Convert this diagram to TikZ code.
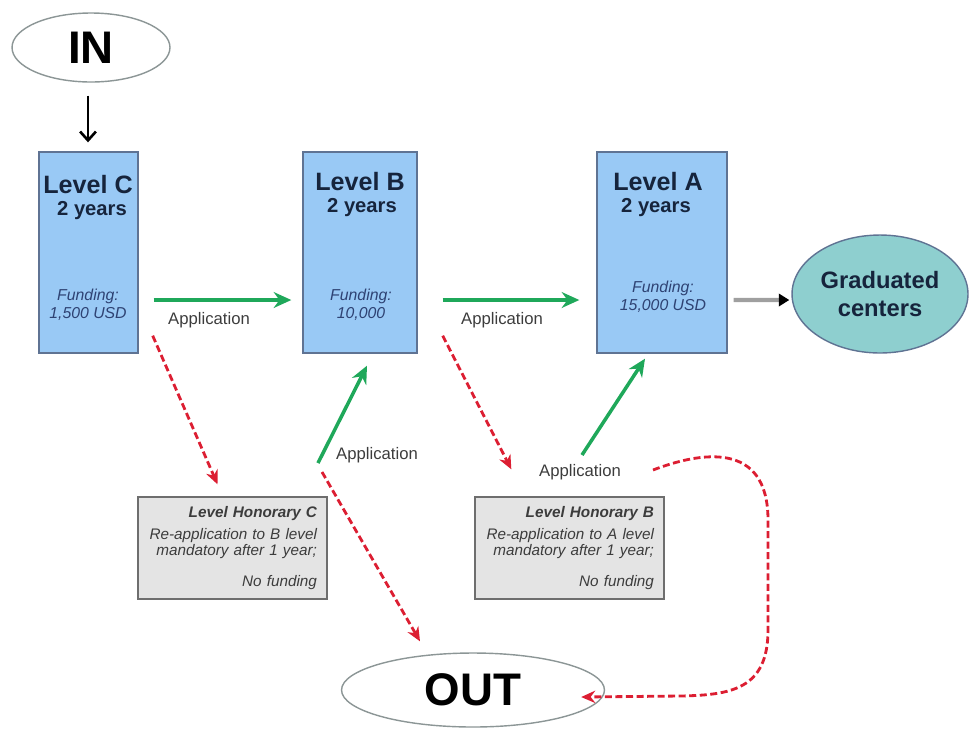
\documentclass[tikz,border=0pt]{standalone}
\usepackage{fontspec}
\setmainfont{Liberation Sans}
\usetikzlibrary{arrows.meta,shapes.geometric}
\definecolor{boxblue}{HTML}{99C9F5}
\definecolor{boxedge}{HTML}{5F7393}
\definecolor{navy}{HTML}{16243C}
\definecolor{fundblue}{HTML}{2E4273}
\definecolor{hongray}{HTML}{E4E4E4}
\definecolor{honedge}{HTML}{6E6E6E}
\definecolor{ovaledge}{HTML}{8C9696}
\definecolor{gradteal}{HTML}{8ECFCF}
\definecolor{appgray}{HTML}{3C3C3C}
\definecolor{appgreen}{HTML}{1FA85A}
\definecolor{dropred}{HTML}{DC1E32}

\begin{document}
\begin{tikzpicture}[x=0.02cm,y=-0.02cm,
  lvlbox/.style={draw=boxedge,fill=boxblue,line width=0.8pt,minimum height=4.02cm,inner sep=0pt},
  lvltitle/.style={text=navy,font=\fontsize{14.3}{16}\selectfont\bfseries},
  lvlyears/.style={text=navy,font=\fontsize{11.5}{13}\selectfont\bfseries},
  fund/.style={text=fundblue,font=\fontsize{9}{10}\selectfont\itshape,align=center},
  honbox/.style={draw=honedge,fill=hongray,line width=0.8pt,minimum width=3.78cm,minimum height=2.04cm,
    inner xsep=0.2cm,text width=3.38cm,align=right,text=appgray,font=\fontsize{8.7}{9.4}\selectfont\itshape},
  oval/.style={ellipse,draw=ovaledge,line width=0.8pt,fill=white,inner sep=0pt},
  apptext/.style={text=appgray,font=\fontsize{9.5}{11}\selectfont},
  go/.style={draw=appgreen,line width=2pt,-{Stealth[length=10pt,width=9pt]}},
  drop/.style={draw=dropred,line width=1.6pt,dash pattern=on 4pt off 2pt,-{Stealth[length=8pt,width=7pt]}},
]
\useasboundingbox (0,0) rectangle (969,728);

% entry and exit
\node[oval,minimum width=3.16cm,minimum height=1.38cm,font=\fontsize{26}{28}\selectfont\bfseries] (in) at (91,47.5) {IN};
\node[oval,minimum width=5.26cm,minimum height=1.48cm,font=\fontsize{26}{28}\selectfont\bfseries] (out) at (473,690) {OUT};

% the three levels
\node[lvlbox,minimum width=1.98cm] (lvlC) at (88.5,252.5) {};
\node[lvlbox,minimum width=2.28cm] (lvlB) at (360,252.5) {};
\node[lvlbox,minimum width=2.6cm] (lvlA) at (662,252.5) {};

\node[lvltitle] (titC) at (88,185) {Level C};
\node[lvlyears] (yrsC) at (92,211) {2 years};
\node[fund] (fundC) at (88,305) {Funding:\\1,500 USD};

\node[lvltitle] (titB) at (360,182) {Level B};
\node[lvlyears] (yrsB) at (362,208) {2 years};
\node[fund] (fundB) at (361,305) {Funding:\\10,000};

\node[lvltitle] (titA) at (658,182) {Level A};
\node[lvlyears] (yrsA) at (656,208) {2 years};
\node[fund] (fundA) at (663,297) {Funding:\\15,000 USD};

\node[ellipse,draw=boxedge,fill=gradteal,line width=0.8pt,minimum width=3.52cm,minimum height=2.36cm,inner sep=0pt,
  align=center,text=navy,font=\fontsize{13.5}{16}\selectfont\bfseries] (grad) at (880,294) {Graduated\\centers};

% honorary levels
\node[honbox] (honC) at (232.5,548) {\textbf{Level Honorary C}\\[3pt]Re-application to B level\\mandatory after 1 year;\\[8pt]No funding};
\node[honbox] (honB) at (569.5,548) {\textbf{Level Honorary B}\\[3pt]Re-application to A level\\mandatory after 1 year;\\[8pt]No funding};

% labels
\node[apptext] (appCB) at (209,320) {Application};
\node[apptext] (appBA) at (502,320) {Application};
\node[apptext] (appHC) at (377,455) {Application};
\node[apptext] (appHB) at (580,472) {Application};

\coordinate (splitC) at (318,463);
\coordinate (splitA) at (582,455);
\coordinate (loopA) at (653,470);

% arrows
\draw[line width=1.5pt,-{Straight Barb[length=5pt,width=9pt]}] ([shift={(-3,13)}]in.south) -- ([shift={(-0.5,-9)}]lvlC.north);
\draw[go] ([shift={(15,47.5)}]lvlC.east) -- ([shift={(-11,47.5)}]lvlB.west); % C to B
\draw[go] ([shift={(25,47.5)}]lvlB.east) -- ([shift={(-17,47.5)}]lvlA.west); % B to A
\draw[draw=gray!75,line width=2.4pt,-{Triangle[length=6pt,width=7pt,color=black]}] ([shift={(6,47.5)}]lvlA.east) -- ([shift={(-2,6)}]grad.west);

\draw[drop] ([shift={(14,-18)}]lvlC.south east) -- ([shift={(-15,-12)}]honC.north);
\draw[go] (splitC) -- ([shift={(7,12)}]lvlB.south);
\draw[drop] ([shift={(4,9)}]splitC) -- ([shift={(-53,-11)}]out.north);

\draw[drop] ([shift={(25,-18)}]lvlB.south east) -- ([shift={(37,-27)}]honB.north west);
\draw[go] (splitA) -- ([shift={(-17,5)}]lvlA.south);
\draw[drop] (loopA) .. controls (700,452) and (768,440) .. (768,520) -- (768,630)
  .. controls (768,690) and (730,695) .. (680,696) -- ([shift={(-24,7)}]out.east);
\end{tikzpicture}
\end{document}
